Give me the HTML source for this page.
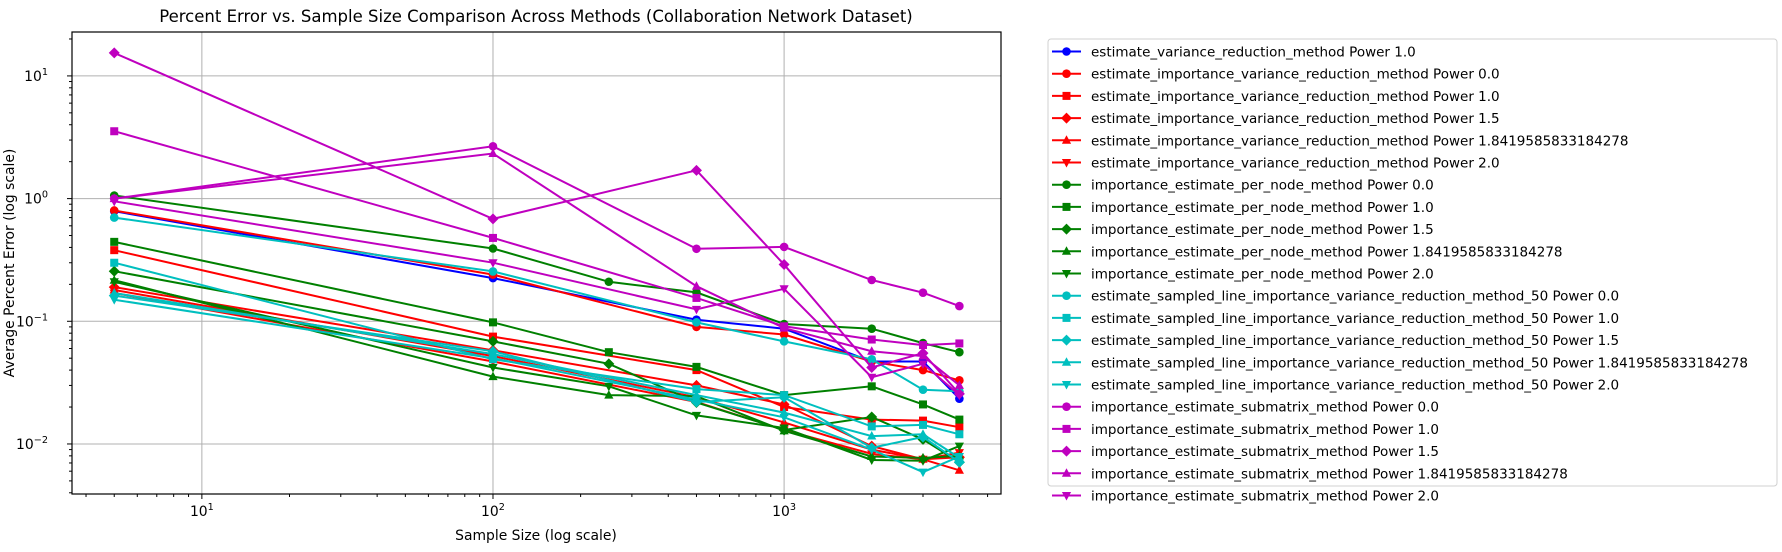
<!DOCTYPE html>
<html><head><meta charset="utf-8">
<style>
html,body{margin:0;padding:0;background:#fff;}
svg{display:block;font-family:"DejaVu Sans","Liberation Sans",sans-serif;}
</style></head>
<body>
<svg id="chart" width="1782" height="552" viewBox="0 0 1782 552">
<text x="536" y="22" text-anchor="middle" font-size="16.5" fill="#000">Percent Error vs. Sample Size Comparison Across Methods (Collaboration Network Dataset)</text>
<text x="536" y="540" text-anchor="middle" font-size="13.9" fill="#000">Sample Size (log scale)</text>
<text transform="translate(14,263) rotate(-90)" text-anchor="middle" font-size="13.9" fill="#000">Average Percent Error (log scale)</text>
<g id="grid"></g><g id="series"></g><g id="axes"></g><g id="legend"></g>
</svg>
<script>
const xsStd = [5,100,500,1000,2000,3000,4000];
const xsGreen = [5,100,250,500,1000,2000,3000,4000];
const seriesNames = [
"estimate_variance_reduction_method Power 1.0",
"estimate_importance_variance_reduction_method Power 0.0",
"estimate_importance_variance_reduction_method Power 1.0",
"estimate_importance_variance_reduction_method Power 1.5",
"estimate_importance_variance_reduction_method Power 1.8419585833184278",
"estimate_importance_variance_reduction_method Power 2.0",
"importance_estimate_per_node_method Power 0.0",
"importance_estimate_per_node_method Power 1.0",
"importance_estimate_per_node_method Power 1.5",
"importance_estimate_per_node_method Power 1.8419585833184278",
"importance_estimate_per_node_method Power 2.0",
"estimate_sampled_line_importance_variance_reduction_method_50 Power 0.0",
"estimate_sampled_line_importance_variance_reduction_method_50 Power 1.0",
"estimate_sampled_line_importance_variance_reduction_method_50 Power 1.5",
"estimate_sampled_line_importance_variance_reduction_method_50 Power 1.8419585833184278",
"estimate_sampled_line_importance_variance_reduction_method_50 Power 2.0",
"importance_estimate_submatrix_method Power 0.0",
"importance_estimate_submatrix_method Power 1.0",
"importance_estimate_submatrix_method Power 1.5",
"importance_estimate_submatrix_method Power 1.8419585833184278",
"importance_estimate_submatrix_method Power 2.0"];
const seriesColors = ["#0000ff","#ff0000","#ff0000","#ff0000","#ff0000","#ff0000","#008000","#008000","#008000","#008000","#008000","#00bfbf","#00bfbf","#00bfbf","#00bfbf","#00bfbf","#bf00bf","#bf00bf","#bf00bf","#bf00bf","#bf00bf"];
const seriesMarkers = ["o","o","s","D","^","v","o","s","D","^","v","o","s","D","^","v","o","s","D","^","v"];
const blueP1 = [0.79,0.225,0.103,0.087,0.047,0.047,0.0234];
const redP0 = [0.80,0.24,0.090,0.078,0.047,0.040,0.033];
const redP1 = [0.38,0.075,0.040,0.020,0.0158,0.0155,0.0137];
const redP15 = [0.19,0.058,0.030,0.021,0.0096,0.0075,0.0078];
const redP184 = [0.18,0.052,0.024,0.015,0.009,0.0075,0.0061];
const redP2 = [0.17,0.047,0.022,0.013,0.0083,0.0075,0.0085];
const greenP0 = [1.06,0.392,0.21,0.172,0.095,0.087,0.0664,0.056];
const greenP1 = [0.444,0.098,0.056,0.0425,0.025,0.0295,0.021,0.0158];
const greenP15 = [0.256,0.0686,0.045,0.0218,0.013,0.0166,0.0109,0.0071];
const greenP184 = [0.216,0.0354,0.025,0.0245,0.0128,0.0079,0.0077,0.008];
const greenP2 = [0.21,0.042,0.0295,0.0171,0.0135,0.0074,0.0073,0.0096];
const cyanP0 = [0.70,0.255,0.098,0.0686,0.049,0.0277,0.0269];
const cyanP1 = [0.30,0.049,0.028,0.025,0.0139,0.0143,0.0120];
const cyanP15 = [0.162,0.0569,0.022,0.024,0.0093,0.0114,0.0071];
const cyanP184 = [0.17,0.054,0.025,0.018,0.0116,0.012,0.0077];
const cyanP2 = [0.15,0.050,0.023,0.0165,0.009,0.0059,0.0079];
const magP0 = [1.0,2.67,0.39,0.404,0.217,0.171,0.133];
const magP1 = [3.54,0.478,0.155,0.091,0.071,0.064,0.066];
const magP15 = [15.4,0.683,1.70,0.29,0.042,0.055,0.0256];
const magP184 = [1.0,2.33,0.193,0.088,0.057,0.052,0.030];
const magP2 = [0.95,0.30,0.125,0.184,0.035,0.045,0.025];
const seriesValues = [blueP1,redP0,redP1,redP15,redP184,redP2,greenP0,greenP1,greenP15,greenP184,greenP2,cyanP0,cyanP1,cyanP15,cyanP184,cyanP2,magP0,magP1,magP15,magP184,magP2];
const xTickVals = [10,100,1000];
const xTickExp = ["1","2","3"];
const yTickVals = [0.01,0.1,1,10];
const yTickExp = ["\u22122","\u22121","0","1"];

const NS="http://www.w3.org/2000/svg";
const L=72,R=1001,T=32,B=494;
const xMin=Math.log10(3.58),xMax=Math.log10(5560);
const yMin=Math.log10(0.00391),yMax=Math.log10(22.8);
const xs=v=>L+(Math.log10(v)-xMin)/(xMax-xMin)*(R-L);
const ys=v=>B-(Math.log10(v)-yMin)/(yMax-yMin)*(B-T);
function mk(tag,attrs,parent){const e=document.createElementNS(NS,tag);for(const k in attrs)e.setAttribute(k,attrs[k]);parent.appendChild(e);return e;}
const grid=document.getElementById('grid'),axes=document.getElementById('axes'),sg=document.getElementById('series'),lg=document.getElementById('legend');

function marker(type,cx,cy,color,parent){
  let e;
  if(type==='o')e=mk('circle',{cx:cx,cy:cy,r:4.3,fill:color},parent);
  else if(type==='s')e=mk('rect',{x:cx-4,y:cy-4,width:8,height:8,fill:color},parent);
  else if(type==='D')e=mk('polygon',{points:`${cx},${cy-5.5} ${cx+5.5},${cy} ${cx},${cy+5.5} ${cx-5.5},${cy}`,fill:color},parent);
  else if(type==='^')e=mk('polygon',{points:`${cx},${cy-5} ${cx+4.6},${cy+3.5} ${cx-4.6},${cy+3.5}`,fill:color},parent);
  else e=mk('polygon',{points:`${cx},${cy+5} ${cx+4.6},${cy-3.5} ${cx-4.6},${cy-3.5}`,fill:color},parent);
  return e;
}

xTickVals.forEach((v,i)=>{const g=mk('line',{x1:xs(v),x2:xs(v),y1:T,y2:B,stroke:'#b0b0b0','stroke-width':1},grid);

});
yTickVals.forEach((v,i)=>{const g=mk('line',{x1:L,x2:R,y1:ys(v),y2:ys(v),stroke:'#b0b0b0','stroke-width':1},grid);

});

seriesValues.forEach((vals,si)=>{
  const xv = vals.length===8?xsGreen:xsStd;
  const g=mk('g',{},sg);
  
  
  const pts=vals.map((v,i)=>xs(xv[i]).toFixed(1)+','+ys(v).toFixed(1)).join(' ');
  mk('polyline',{points:pts,fill:'none',stroke:seriesColors[si],'stroke-width':2},g);
  vals.forEach((v,i)=>{const m=marker(seriesMarkers[si],xs(xv[i]),ys(v),seriesColors[si],g);
    
    });
});

const fr=mk('rect',{x:L,y:T,width:R-L,height:B-T,fill:'none',stroke:'#000','stroke-width':1.2},axes);


for(let d=0;d<=3;d++){for(let k=1;k<10;k++){const v=k*Math.pow(10,d);if(v<3.58||v>5560)continue;
  const major=k===1;mk('line',{x1:xs(v),x2:xs(v),y1:B,y2:B+(major?5:3),stroke:'#000','stroke-width':1},axes);}}
xTickVals.forEach((v,i)=>{const t=mk('text',{x:xs(v),y:B+22,'text-anchor':'middle','font-size':13.9},axes);
  
  
  t.appendChild(document.createTextNode('10'));
  const s=mk('tspan',{dy:-6,'font-size':9.7},t);s.textContent=xTickExp[i];});
for(let d=-3;d<=1;d++){for(let k=1;k<10;k++){const v=k*Math.pow(10,d);if(v<0.00391||v>22.8)continue;
  const major=k===1;mk('line',{x1:L,x2:L-(major?5:3),y1:ys(v),y2:ys(v),stroke:'#000','stroke-width':1},axes);}}
yTickVals.forEach((v,i)=>{const t=mk('text',{x:L-24,y:ys(v)+5,'text-anchor':'end','font-size':13.9},axes);
  
  
  t.appendChild(document.createTextNode('10'));
  const s=mk('tspan',{dy:-6,'font-size':9.7},t);s.textContent=yTickExp[i];});

const lb=mk('rect',{x:1048,y:39,width:729,height:447,rx:3,fill:'#fff',stroke:'#d0d0d0','stroke-width':1},lg);


seriesNames.forEach((n,i)=>{
  const y=51.5+i*22.2;
  const g=mk('g',{},lg);
  
  
  mk('line',{x1:1052,x2:1081,y1:y,y2:y,stroke:seriesColors[i],'stroke-width':2},g);
  marker(seriesMarkers[i],1066.5,y,seriesColors[i],g);
  const t=mk('text',{x:1091,y:y+5,'font-size':13.5},g);t.textContent=n;
});
</script>
</body></html>
